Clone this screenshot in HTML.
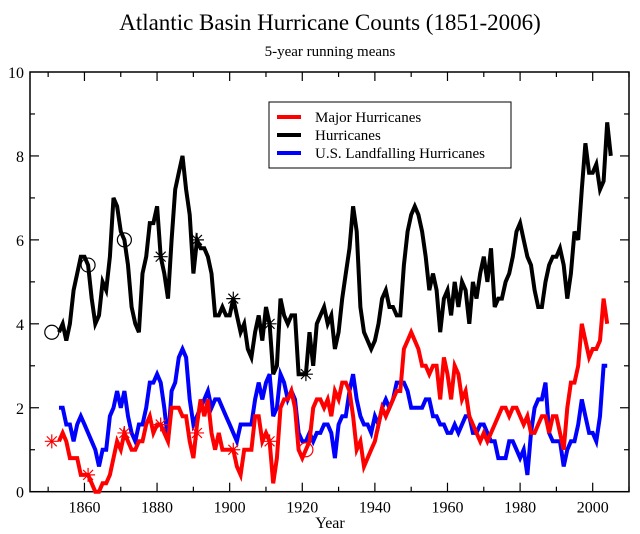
<!DOCTYPE html>
<html><head><meta charset="utf-8"><style>
html,body{margin:0;padding:0;background:#fff;}
svg{display:block;font-family:"Liberation Serif",serif;}
</style></head><body>
<svg id="chart" width="640" height="534" viewBox="0 0 640 534" xmlns="http://www.w3.org/2000/svg">
<text x="330" y="30" font-size="23" text-anchor="middle">Atlantic Basin Hurricane Counts (1851-2006)</text>
<text x="330" y="56" font-size="15" text-anchor="middle">5-year running means</text>
<g id="axes"></g>
<g id="series"></g>
<g id="markers"></g>
<text x="330" y="528" font-size="16" text-anchor="middle">Year</text>
<g>
<rect x="269" y="102" width="242" height="66" fill="#fff" stroke="#000" stroke-width="1"/>
<line x1="277" y1="117" x2="301" y2="117" stroke="#ff0000" stroke-width="4"/>
<text x="315" y="122" font-size="15">Major Hurricanes</text>
<line x1="277" y1="135" x2="301" y2="135" stroke="#000" stroke-width="4"/>
<text x="315" y="140" font-size="15">Hurricanes</text>
<line x1="277" y1="153" x2="301" y2="153" stroke="#0000ff" stroke-width="4"/>
<text x="315" y="158" font-size="15">U.S. Landfalling Hurricanes</text>
</g>
</svg>
<script>
const startYear = 1853;
const hurricanes = [3.8,4.0,3.6,4.0,4.8,5.2,5.6,5.6,5.4,4.6,4.0,4.2,5.0,4.8,5.6,7.0,6.8,6.2,6.0,5.4,4.4,4.0,3.8,5.2,5.6,6.4,6.4,6.8,5.6,5.2,4.6,6.0,7.2,7.6,8.0,7.2,6.6,5.2,6.0,5.8,5.8,5.6,5.2,4.2,4.2,4.4,4.2,4.2,4.6,4.2,3.8,4.0,3.4,3.2,3.8,4.2,3.6,4.4,4.0,2.8,3.0,4.6,4.2,4.0,4.2,4.2,2.8,2.8,2.8,3.8,3.0,4.0,4.2,4.4,4.0,4.2,3.4,3.8,4.6,5.2,5.8,6.8,6.2,4.4,3.8,3.6,3.4,3.6,4.0,4.6,4.8,4.4,4.4,4.2,4.2,5.4,6.2,6.6,6.8,6.6,6.2,5.6,4.8,5.2,4.8,3.8,4.6,4.8,4.2,5.0,4.4,5.0,4.8,4.0,5.0,4.6,5.2,5.6,5.0,5.8,4.4,4.6,4.6,5.0,5.2,5.6,6.2,6.4,6.0,5.6,5.4,4.8,4.4,4.4,5.0,5.4,5.6,5.6,5.8,5.4,4.6,5.2,6.2,6.0,7.2,8.3,7.6,7.6,7.8,7.2,7.4,8.8,8.0];
const major = [1.2,1.4,1.2,0.8,0.8,0.8,0.4,0.4,0.4,0.2,0,0,0.2,0.2,0.4,0.8,1.2,1.0,1.4,1.2,1.0,1.0,1.2,1.2,1.6,1.8,1.4,1.6,1.6,1.4,1.2,2.0,2.0,2.0,1.8,1.8,1.2,0.8,1.6,2.2,1.8,2.2,1.4,1.0,1.4,1.0,1.0,1.0,1.0,0.6,0.4,1.0,1.0,1.0,1.8,1.8,1.2,1.4,1.2,0.2,0.8,2.0,2.2,2.2,2.4,2.0,1.0,0.8,1.0,1.2,2.0,2.2,2.2,2.0,2.2,1.8,2.4,2.2,2.6,2.6,2.4,1.8,1.0,1.2,0.6,0.8,1.0,1.2,1.6,2.0,1.8,2.0,2.2,2.4,2.4,3.4,3.6,3.8,3.6,3.4,3.0,3.0,2.8,3.0,3.0,2.2,3.2,2.8,2.2,3.0,2.8,2.2,2.4,1.8,1.6,1.4,1.2,1.4,1.2,1.4,1.6,1.8,2.0,2.0,1.8,2.0,2.0,1.8,1.6,1.8,1.4,1.4,1.6,1.8,1.8,1.4,1.8,1.8,1.4,1.0,2.0,2.6,2.6,3.0,4.0,3.6,3.2,3.4,3.4,3.6,4.6,4.0];
const landfalling = [2.0,2.0,1.6,1.6,1.2,1.6,1.8,1.6,1.4,1.2,1.0,0.6,1.0,1.0,1.8,2.0,2.4,2.0,2.4,1.8,1.4,1.2,1.6,1.6,2.0,2.6,2.6,2.8,2.6,2.0,1.2,2.4,2.6,3.2,3.4,3.2,2.2,1.6,1.8,2.0,2.2,2.4,2.0,2.2,2.2,2.0,1.8,1.6,1.4,1.2,1.6,1.6,1.6,1.6,2.2,2.6,2.2,2.6,2.8,1.8,2.0,2.8,2.6,2.2,2.4,2.2,1.4,1.2,1.2,1.4,1.2,1.4,1.4,1.6,1.6,1.4,0.8,1.6,1.8,1.8,2.4,2.8,2.2,1.8,1.6,1.6,1.4,1.8,1.6,2.0,2.2,2.0,2.2,2.6,2.6,2.6,2.4,2.0,2.0,2.0,2.0,2.2,2.2,1.8,1.8,1.6,1.6,1.4,1.4,1.6,1.4,1.6,1.8,1.8,1.4,1.4,1.6,1.6,1.4,1.2,1.2,0.8,0.8,0.8,1.2,1.2,1.0,0.8,1.0,0.4,1.4,2.0,2.2,2.2,2.6,1.4,1.2,1.2,1.2,0.6,1.0,1.2,1.2,1.6,2.2,1.8,1.4,1.4,1.2,1.8,3.0,3.0];
const circleYears = [1851,1861,1871];
const circleValues = [3.8,5.4,6.0];
const starYears = [1881,1891,1901,1911,1921];
const starValues = [5.6,6.0,4.6,4.0,2.8];
const redStarYears = [1851,1861,1871,1881,1891,1901,1911];
const redStarValues = [1.2,0.4,1.4,1.6,1.4,1.0,1.2];
const redCircleYears = [1921];
const redCircleValues = [1.0];
const xTicks = [1860,1880,1900,1920,1940,1960,1980,2000];
const yTicks = [0,2,4,6,8,10];

const NS = "http://www.w3.org/2000/svg";
const L=30,R=629,T=72,B=491.7;
const x0=1845,x1=2010;
function sx(v){return L+(v-x0)/(x1-x0)*(R-L);}
function sy(v){return B-v/10*(B-T);}
function mk(tag,attrs,parent){const e=document.createElementNS(NS,tag);for(const k in attrs)e.setAttribute(k,attrs[k]);parent.appendChild(e);return e;}
const axes=document.getElementById('axes');
const frame=mk('rect',{x:L,y:T,width:R-L,height:B-T,fill:'none',stroke:'#000','stroke-width':1.5},axes);


for(let yr=1850;yr<=2010;yr+=10){
  const len=(yr%20===0)?9:5;
  const x=sx(yr);
  const t1=mk('line',{x1:x,y1:B,x2:x,y2:B-len,stroke:'#000','stroke-width':1.2},axes);
  
  
  const t2=mk('line',{x1:x,y1:T,x2:x,y2:T+len,stroke:'#000','stroke-width':1.2},axes);
  
  
}
xTicks.forEach(v=>{
  const t=mk('text',{x:sx(v),y:B+21,'font-size':16,'text-anchor':'middle'},axes);
  t.textContent=v;
  
  
});
for(let v=1;v<10;v++){
  const len=(v%2===0)?9:5;
  const y=sy(v);
  const a=mk('line',{x1:L,y1:y,x2:L+len,y2:y,stroke:'#000','stroke-width':1.2},axes);
  
  
  const b=mk('line',{x1:R,y1:y,x2:R-len,y2:y,stroke:'#000','stroke-width':1.2},axes);
  
  
}
yTicks.forEach(v=>{
  const t=mk('text',{x:24,y:sy(v)+6,'font-size':16,'text-anchor':'end'},axes);
  t.textContent=v;
  
  
});
const series=document.getElementById('series');
function line(arr,color,name){
  const pts=arr.map((v,i)=>sx(startYear+i).toFixed(1)+','+sy(v).toFixed(1)).join(' ');
  const p=mk('polyline',{points:pts,fill:'none',stroke:color,'stroke-width':4,'stroke-linejoin':'miter','stroke-miterlimit':4},series);
  
  
}
line(landfalling,'#0000ff','landfalling-line');
line(major,'#ff0000','major-line');
line(hurricanes,'#000000','hurricanes-line');
const markers=document.getElementById('markers');
function circles(ys,vs,color,name){
  ys.forEach((yr,i)=>{
    const c=mk('circle',{cx:sx(yr),cy:sy(vs[i]),r:7,fill:'none',stroke:color,'stroke-width':1.2},markers);
    
    
  });
}
function stars(ys,vs,color,name){
  ys.forEach((yr,i)=>{
    const cx=sx(yr),cy=sy(vs[i]),r=7;
    let d='';
    for(let k=0;k<4;k++){const a=k*Math.PI/4;d+=`M${cx-r*Math.cos(a)},${cy-r*Math.sin(a)}L${cx+r*Math.cos(a)},${cy+r*Math.sin(a)}`;}
    const p=mk('path',{d:d,stroke:color,'stroke-width':1.2,fill:'none'},markers);
    
    
  });
}
circles(circleYears,circleValues,'#000','hurricane-circle-marker');
stars(starYears,starValues,'#000','hurricane-star-marker');
stars(redStarYears,redStarValues,'#ff0000','major-star-marker');
circles(redCircleYears,redCircleValues,'#ff0000','major-circle-marker');
</script>
</body></html>
